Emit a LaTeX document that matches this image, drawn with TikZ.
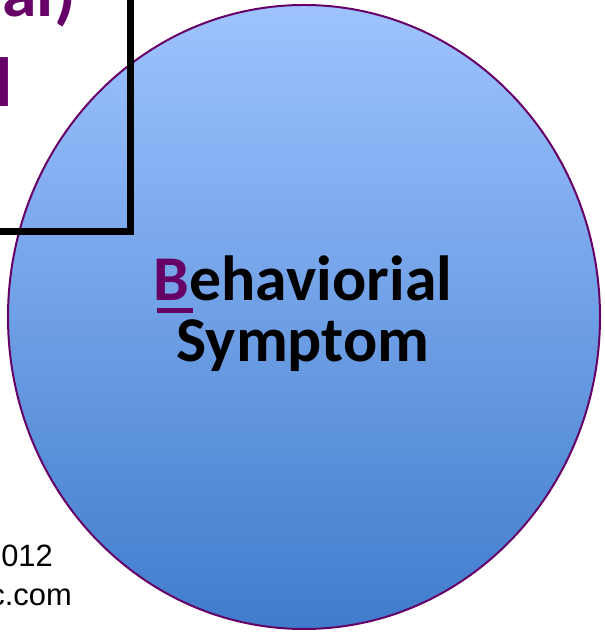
\documentclass[tikz,border=0pt]{standalone}
\usepackage{fontspec}
\setmainfont{Carlito}
\newfontfamily\arialfont{Liberation Sans}
\definecolor{plum}{RGB}{102,0,102}
\definecolor{skytop}{RGB}{158,195,255}
\definecolor{skybottom}{RGB}{64,124,204}
\begin{document}
\begin{tikzpicture}[x=1bp,y=1bp,
  bigword/.style={inner sep=0pt, font=\fontsize{64}{64}\selectfont\bfseries},
  cornerword/.style={inner sep=0pt, text=plum, font=\fontsize{70}{70}\selectfont\bfseries},
  footword/.style={inner sep=0pt, font=\arialfont\fontsize{31}{31}\selectfont}]
\useasboundingbox (0,0) rectangle (605,632);
\clip (0,0) rectangle (605,632);
% shaded circle
\shade[top color=skytop, bottom color=skybottom] (304,315) ellipse [x radius=296, y radius=312];
\draw[plum, line width=2pt] (304,315) ellipse [x radius=296, y radius=312];
% partial heading in the corner frame
\node[cornerword, anchor=base east] (head1) at (76,615) {al)};
\node[cornerword, anchor=base east] (head2) at (13,525) {l};
\draw[black, line width=7.5pt] (-20,400.5) -- (130.5,400.5) -- (130.5,660);
% circle label
\node[bigword, anchor=base] (beh) at (303,331) {\textcolor{plum}{B}ehaviorial};
\node[bigword, anchor=base] (sym) at (303,270) {Symptom};
\draw[plum, line width=4.5pt] ([shift={(3,-9.5)}]beh.base west) -- ++(36,0);
% footer
\node[footword, anchor=base east] (foot1) at (53,65) {012};
\node[footword, anchor=base east] (foot2) at (72,26) {c.com};
\end{tikzpicture}
\end{document}
